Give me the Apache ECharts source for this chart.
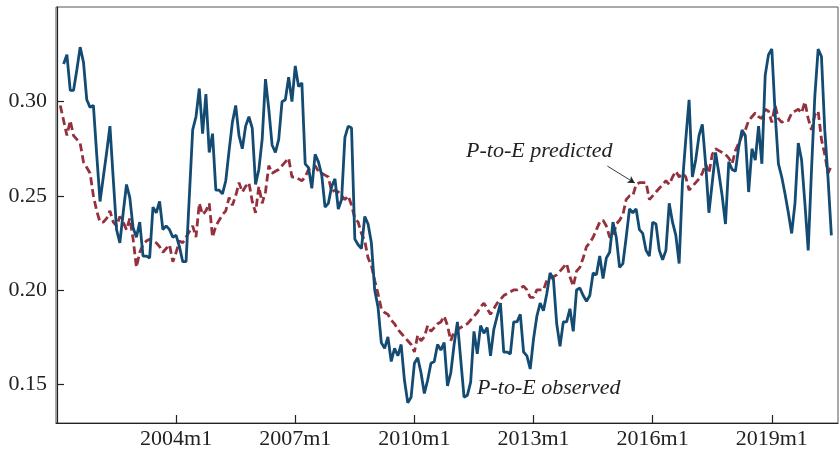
<!DOCTYPE html>
<html>
<head>
<meta charset="utf-8">
<script src="https://cdn.jsdelivr.net/npm/echarts@6/dist/echarts.min.js"></script>
<style>
html,body{margin:0;padding:0;background:#fff;}
#chart{width:839px;height:454px;}
</style>
</head>
<body>
<div id="chart"></div>
<script>
// Monthly index: 0 = 2001m1
const xTickLabels = ['2004m1', '2007m1', '2010m1', '2013m1', '2016m1', '2019m1'];
const yTickValues = [0.15, 0.20, 0.25, 0.30];

// P-to-E observed, starting 2001m3
const observedStart = '2001m3';
const observed = [
  0.320,0.325,0.306,0.306,0.317,0.329,0.321,0.301,0.297,0.298,
  0.272,0.247,0.260,0.273,0.287,0.259,0.232,0.225,0.241,0.256,0.249,0.233,
  0.228,0.236,0.218,0.218,0.217,0.244,0.241,0.247,0.232,0.234,0.232,0.228,
  0.229,0.223,0.215,0.215,0.250,0.285,0.292,0.307,0.283,0.304,0.273,0.283,
  0.253,0.253,0.251,0.258,0.274,0.289,0.298,0.282,0.275,0.287,0.292,0.286,
  0.256,0.264,0.280,0.312,0.296,0.277,0.273,0.280,0.300,0.301,0.313,0.300,
  0.319,0.308,0.310,0.267,0.265,0.254,0.272,0.268,0.261,0.244,0.246,0.255,
  0.259,0.243,0.248,0.281,0.287,0.286,0.227,0.224,0.222,0.239,0.235,0.225,
  0.200,0.191,0.172,0.169,0.175,0.162,0.169,0.165,0.171,0.152,0.140,0.143,
  0.161,0.164,0.156,0.145,0.152,0.161,0.162,0.171,0.168,0.172,0.149,0.156,
  0.171,0.183,0.163,0.143,0.144,0.151,0.178,0.166,0.181,0.177,0.180,0.165,
  0.179,0.186,0.193,0.167,0.167,0.166,0.183,0.183,0.187,0.167,0.165,0.158,
  0.174,0.186,0.193,0.189,0.198,0.209,0.206,0.182,0.170,0.183,0.183,0.190,
  0.178,0.200,0.201,0.197,0.194,0.197,0.209,0.208,0.218,0.206,0.217,0.220,
  0.236,0.228,0.212,0.214,0.228,0.243,0.241,0.243,0.232,0.230,0.221,0.218,
  0.236,0.235,0.221,0.216,0.221,0.246,0.236,0.229,0.214,0.257,0.280,0.301,
  0.260,0.269,0.282,0.288,0.267,0.241,0.257,0.273,0.262,0.250,0.235,0.268,
  0.264,0.263,0.276,0.285,0.282,0.252,0.275,0.269,0.287,0.267,0.314,0.325,
  0.328,0.294,0.267,0.260,0.251,0.241,0.230,0.246,0.278,0.269,0.246,0.221,
  0.264,0.303,0.328,0.324,0.285,0.259,0.229
];

// P-to-E predicted, starting 2001m2
const predictedStart = '2001m2';
const predicted = [
  0.298,0.290,0.282,0.290,0.282,0.280,0.278,0.268,0.265,0.262,0.250,
  0.242,0.236,0.236,0.238,0.242,0.236,0.234,0.239,0.236,0.232,0.238,0.227,
  0.212,0.220,0.224,0.226,0.227,0.226,0.225,0.223,0.220,0.222,0.224,0.215,
  0.220,0.226,0.225,0.228,0.231,0.234,0.228,0.246,0.240,0.242,0.246,0.228,
  0.234,0.237,0.240,0.242,0.249,0.245,0.250,0.257,0.252,0.255,0.257,0.247,
  0.241,0.255,0.246,0.252,0.266,0.262,0.263,0.264,0.266,0.268,0.270,0.260,
  0.260,0.259,0.258,0.260,0.264,0.265,0.266,0.263,0.262,0.261,0.260,0.252,
  0.253,0.252,0.250,0.248,0.250,0.245,0.238,0.236,0.230,0.226,0.217,0.213,
  0.205,0.198,0.190,0.188,0.187,0.184,0.182,0.179,0.177,0.175,0.173,0.171,
  0.167,0.176,0.173,0.175,0.181,0.178,0.180,0.182,0.183,0.186,0.181,0.173,
  0.178,0.179,0.180,0.181,0.182,0.184,0.186,0.188,0.191,0.193,0.190,0.187,
  0.190,0.193,0.195,0.197,0.198,0.199,0.200,0.200,0.201,0.202,0.200,0.196,
  0.196,0.200,0.200,0.200,0.205,0.206,0.207,0.208,0.210,0.212,0.214,0.207,
  0.202,0.210,0.212,0.217,0.223,0.225,0.228,0.232,0.236,0.237,0.234,0.228,
  0.228,0.235,0.237,0.240,0.248,0.250,0.250,0.256,0.257,0.257,0.257,0.248,
  0.250,0.252,0.254,0.256,0.258,0.256,0.260,0.263,0.260,0.262,0.260,0.253,
  0.255,0.257,0.259,0.262,0.267,0.262,0.272,0.275,0.274,0.273,0.272,0.270,
  0.267,0.274,0.278,0.282,0.285,0.290,0.292,0.294,0.292,0.291,0.296,0.295,
  0.289,0.298,0.291,0.289,0.290,0.290,0.294,0.295,0.296,0.294,0.300,0.291,
  0.285,0.293,0.295,0.280,0.272,0.262,0.266
];

const annPredicted = 'P-to-E predicted';
const annObserved = 'P-to-E observed';

function monthIndex(label) {
  const [y, m] = label.split('m').map(Number);
  return (y - 2001) * 12 + (m - 1);
}
function monthLabel(i) {
  return (2001 + Math.floor(i / 12)) + 'm' + ((i % 12) + 1);
}
const xTickPos = xTickLabels.map(monthIndex);
const obsData = observed.map((v, i) => [monthIndex(observedStart) + i, v]);
const predData = predicted.map((v, i) => [monthIndex(predictedStart) + i, v]);

const serif = "'Liberation Serif', 'DejaVu Serif', serif";
const chart = echarts.init(document.getElementById('chart'), null, {renderer: 'canvas'});
chart.setOption({
  animation: false,
  backgroundColor: '#ffffff',
  grid: {left: 56, right: 1, top: 7, bottom: 31, show: true, borderColor: '#555', borderWidth: 1, containLabel: false, outerBoundsMode: 'none'},
  xAxis: {
    type: 'value', min: -0.3, max: 236,
    axisLine: {show: true, lineStyle: {color: '#222', width: 1.2}},
    axisTick: {show: true, inside: true, length: 8, customValues: xTickPos, lineStyle: {color: '#222', width: 1.2}},
    axisLabel: {customValues: xTickPos, formatter: v => monthLabel(Math.round(v)), color: '#222', fontFamily: serif, fontSize: 22, margin: 5},
    splitLine: {show: false}
  },
  yAxis: {
    type: 'value', min: 0.1293, max: 0.3503,
    axisLine: {show: true, lineStyle: {color: '#222', width: 1.2}},
    axisTick: {show: true, inside: true, length: 7, customValues: yTickValues, lineStyle: {color: '#222', width: 1.2}},
    axisLabel: {customValues: yTickValues, formatter: v => v.toFixed(2), color: '#222', fontFamily: serif, fontSize: 22, margin: 9},
    splitLine: {show: false}
  },
  series: [
    {
      name: annObserved, type: 'line', data: obsData, showSymbol: false, symbol: 'none',
      lineStyle: {color: '#134b73', width: 2.8}, z: 3
    },
    {
      name: annPredicted, type: 'line', data: predData, showSymbol: false, symbol: 'none',
      lineStyle: {color: '#94313d', width: 2.8, type: [8, 4]}, z: 2,
      markLine: {
        silent: true, symbol: ['none', 'arrow'], symbolSize: [6, 7],
        label: {show: false},
        lineStyle: {color: '#222', width: 0.9, type: 'solid'},
        data: [[{coord: [166.3, 0.2658]}, {coord: [174.6, 0.2568]}]]
      }
    }
  ],
  graphic: [
    {type: 'text', left: 466, top: 140, style: {text: annPredicted, fill: '#222', font: 'italic 22px ' + serif}},
    {type: 'text', left: 477, top: 377, style: {text: annObserved, fill: '#222', font: 'italic 22px ' + serif}}
  ]
});
</script>
</body>
</html>
